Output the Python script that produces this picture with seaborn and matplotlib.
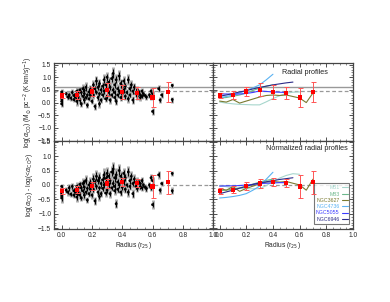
import numpy as np
import pandas as pd
import seaborn as sns
import matplotlib.pyplot as plt
from matplotlib.ticker import MultipleLocator

# ---- individual pixels (x in r25, top: log alpha_CO, bottom: normalized) ----
px_x = ([0.0, 0.0, 0.0, 0.0, 0.0, 0.0]
        + [0.03, 0.04, 0.05, 0.06, 0.07, 0.08, 0.08]
        + [0.09, 0.10, 0.10, 0.10, 0.10, 0.11, 0.11, 0.12, 0.12]
        + [0.13, 0.13, 0.14, 0.14, 0.15, 0.15, 0.15, 0.16, 0.16, 0.17, 0.17, 0.18, 0.18, 0.19, 0.19]
        + [0.20, 0.20, 0.21, 0.21, 0.22, 0.22, 0.23, 0.23, 0.24, 0.24, 0.25, 0.25, 0.25, 0.26, 0.26,
           0.27, 0.27, 0.28, 0.28, 0.29, 0.29, 0.30, 0.30, 0.30]
        + [0.31, 0.31, 0.32, 0.32, 0.33, 0.33, 0.34, 0.34, 0.35, 0.35, 0.35, 0.36, 0.36, 0.37, 0.37,
           0.38, 0.38, 0.39, 0.39, 0.40, 0.40]
        + [0.41, 0.41, 0.42, 0.42, 0.43, 0.44, 0.44, 0.45, 0.45, 0.46, 0.47, 0.47, 0.48, 0.49, 0.50, 0.50]
        + [0.51, 0.52, 0.52, 0.53, 0.53, 0.54, 0.55, 0.56]
        + [0.58, 0.59, 0.59, 0.60, 0.60, 0.64, 0.65, 0.66, 0.73, 0.73])
px_top = ([0.30, 0.15, 0.42, 0.05, 0.25, -0.05]
          + [0.35, 0.22, 0.30, 0.18, 0.40, 0.28, 0.12]
          + [0.25, 0.45, 0.30, 0.15, 0.05, 0.38, 0.22, 0.50, 0.10]
          + [0.40, -0.05, 0.55, 0.25, 0.35, 0.10, 0.48, 0.20, 0.60, 0.30, -0.10, 0.42, 0.15, 0.52, 0.28]
          + [0.45, 0.05, 0.70, 0.30, 0.55, -0.15, 0.40, 0.85, 0.20, 0.60, 0.35, 0.75, -0.05, 0.50, 0.10,
             0.65, 0.30, 0.90, 0.45, 0.15, 0.70, 0.55, 0.25, 1.00]
          + [0.40, 0.80, 0.10, 0.60, 0.95, 0.30, 0.50, 1.15, 0.20, 0.70, 0.40, 0.90, 0.05, 0.55, 0.30,
             1.05, 0.45, 0.20, 0.75, 0.60, 0.35]
          + [0.50, 0.85, 0.25, 0.65, 0.40, 0.90, 0.15, 0.55, 0.30, 0.70, 0.45, 0.10, 0.60, 0.35, 0.50, 0.25]
          + [0.40, 0.30, 0.20, 0.45, 0.25, 0.35, 0.28, 0.22]
          + [0.30, 0.45, 0.20, -0.35, 0.35, 0.55, 0.10, 0.30, 0.68, 0.12])
px_bot = ([-0.15, -0.30, -0.05, -0.45, -0.22, -0.38]
          + [-0.18, -0.25, -0.10, -0.32, -0.05, -0.20, -0.35]
          + [-0.22, -0.05, -0.15, -0.30, -0.42, -0.10, -0.25, 0.02, -0.35]
          + [-0.10, -0.45, 0.05, -0.20, -0.08, -0.35, 0.10, -0.25, 0.15, -0.12, -0.52, 0.00, -0.30, 0.08, -0.15]
          + [0.00, -0.35, 0.20, -0.15, 0.10, -0.55, -0.05, 0.30, -0.25, 0.15, -0.10, 0.25, -0.40, 0.05, -0.30,
             0.18, -0.12, 0.35, 0.00, -0.28, 0.22, 0.10, -0.18, 0.40]
          + [0.00, 0.30, -0.30, 0.15, 0.45, -0.10, 0.05, 0.55, -0.20, 0.25, -0.05, 0.35, -0.65, 0.10, -0.15,
             0.50, 0.00, -0.25, 0.30, 0.15, -0.08]
          + [0.10, 0.40, -0.15, 0.25, 0.00, 0.45, -0.25, 0.15, -0.05, 0.30, 0.05, -0.30, 0.20, -0.05, 0.12, -0.12]
          + [0.10, 0.05, -0.05, 0.15, -0.10, 0.00, -0.08, -0.12]
          + [0.00, 0.25, -0.10, -0.68, 0.15, 0.35, -0.18, 0.05, 0.40, -0.20])
px_err = ([0.12, 0.15, 0.10, 0.18, 0.12, 0.14]
          + [0.10, 0.12, 0.15, 0.10, 0.12, 0.14, 0.10]
          + [0.12, 0.15, 0.10, 0.12, 0.18, 0.10, 0.14, 0.12, 0.15]
          + [0.15, 0.12, 0.18, 0.10, 0.14, 0.16, 0.12, 0.10, 0.20, 0.14, 0.12, 0.16, 0.10, 0.18, 0.12]
          + [0.16, 0.12, 0.20, 0.14, 0.18, 0.15, 0.12, 0.22, 0.14, 0.18, 0.12, 0.20, 0.15, 0.16, 0.12,
             0.18, 0.14, 0.22, 0.16, 0.12, 0.20, 0.15, 0.14, 0.22]
          + [0.18, 0.20, 0.14, 0.16, 0.22, 0.12, 0.18, 0.25, 0.14, 0.20, 0.16, 0.22, 0.15, 0.18, 0.12,
             0.24, 0.16, 0.14, 0.20, 0.18, 0.15]
          + [0.16, 0.20, 0.14, 0.18, 0.12, 0.22, 0.15, 0.16, 0.12, 0.18, 0.14, 0.16, 0.18, 0.12, 0.15, 0.14]
          + [0.12, 0.10, 0.12, 0.14, 0.10, 0.12, 0.10, 0.12]
          + [0.10, 0.12, 0.10, 0.15, 0.12, 0.14, 0.12, 0.10, 0.10, 0.12])

# ---- binned means (red) ----
bin_x = [0.0, 0.1, 0.2, 0.3, 0.4, 0.5, 0.6, 0.7]
mean_top = [0.28, 0.31, 0.44, 0.51, 0.41, 0.38, 0.20, 0.41]
err_top = [0.10, 0.15, 0.18, 0.25, 0.27, 0.22, 0.37, 0.40]
mean_bot = [-0.21, -0.16, -0.03, 0.05, 0.10, 0.07, -0.05, 0.10]
err_bot = [0.11, 0.12, 0.14, 0.14, 0.14, 0.15, 0.40, 0.40]

# ---- galaxy radial profiles ----
gal_names = ['M51', 'M83', 'NGC3627', 'NGC4736', 'NGC5055', 'NGC6946']
gal_colors = ['#a6d6cc', '#6cb88c', '#7a7a30', '#5ab2f2', '#3c3cff', '#2c2c88']
gal_x = {
    'M51': [0.0, 0.05, 0.1, 0.15, 0.2, 0.25, 0.3, 0.35, 0.4, 0.45, 0.5, 0.55, 0.6],
    'M83': [0.0, 0.05, 0.1, 0.15, 0.2, 0.25, 0.3, 0.35, 0.4],
    'NGC3627': [0.0, 0.05, 0.1, 0.15, 0.2, 0.25, 0.3, 0.35, 0.4, 0.45, 0.5, 0.55, 0.6, 0.65, 0.7],
    'NGC4736': [0.0, 0.05, 0.1, 0.15, 0.2, 0.25, 0.3, 0.35, 0.4],
    'NGC5055': [0.0, 0.05, 0.1, 0.15, 0.2, 0.25, 0.3, 0.35, 0.4, 0.45, 0.5],
    'NGC6946': [0.0, 0.05, 0.1, 0.15, 0.2, 0.25, 0.3, 0.35, 0.4, 0.45, 0.5, 0.55],
}
gal_top = {
    'M51': [0.02, -0.02, -0.05, -0.07, -0.08, -0.09, -0.09, 0.03, 0.16, 0.27, 0.37, 0.41, 0.42],
    'M83': [0.18, 0.20, 0.25, 0.30, 0.38, 0.48, 0.57, 0.65, 0.70],
    'NGC3627': [0.06, 0.02, 0.12, -0.02, 0.06, 0.14, 0.22, 0.28, 0.30, 0.28, 0.30, 0.24, 0.18, 0.00, 0.38],
    'NGC4736': [0.19, 0.24, 0.30, 0.38, 0.48, 0.58, 0.70, 0.90, 1.12],
    'NGC5055': [0.34, 0.34, 0.33, 0.34, 0.36, 0.40, 0.46, 0.44, 0.42, 0.41, 0.40],
    'NGC6946': [0.25, 0.30, 0.36, 0.42, 0.47, 0.54, 0.60, 0.65, 0.70, 0.74, 0.78, 0.81],
}
gal_bot = {
    'M51': [-0.02, -0.06, -0.10, -0.12, -0.13, -0.13, -0.13, -0.02, 0.12, 0.24, 0.33, 0.39, 0.37],
    'M83': [-0.20, -0.18, -0.14, -0.10, -0.04, 0.03, 0.10, 0.16, 0.20],
    'NGC3627': [-0.12, -0.18, -0.06, -0.22, -0.12, -0.04, 0.04, 0.10, 0.12, 0.10, 0.12, 0.06, 0.00, -0.18, 0.20],
    'NGC4736': [-0.45, -0.43, -0.40, -0.36, -0.30, -0.18, -0.04, 0.20, 0.44],
    'NGC5055': [-0.04, -0.03, -0.03, -0.02, 0.00, 0.02, 0.05, 0.06, 0.07, 0.08, 0.08],
    'NGC6946': [-0.30, -0.24, -0.18, -0.11, -0.05, 0.02, 0.07, 0.11, 0.15, 0.19, 0.22, 0.25],
}

solid_level = 0.63
dash_level = 0.47

sns.set_style('ticks')
plt.rcParams['font.family'] = ['Liberation Sans', 'DejaVu Sans']
plt.rcParams['mathtext.fontset'] = 'dejavusans'

fig = plt.figure(figsize=(3.9, 3.02), dpi=100)
ax_tl = fig.add_axes([0.1385, 0.533, 0.408, 0.258])
ax_tr = fig.add_axes([0.546, 0.533, 0.359, 0.258])
ax_bl = fig.add_axes([0.1385, 0.242, 0.408, 0.291])
ax_br = fig.add_axes([0.546, 0.242, 0.359, 0.291])

fs = 4.8


def style(ax, ylim, xlabels, ylabels):
    ax.set_xlim(-0.05, 1.0)
    ax.set_ylim(*ylim)
    ax.xaxis.set_major_locator(MultipleLocator(0.2))
    ax.xaxis.set_minor_locator(MultipleLocator(0.05))
    ax.yaxis.set_major_locator(MultipleLocator(0.5))
    ax.yaxis.set_minor_locator(MultipleLocator(0.1))
    ax.tick_params(which='both', direction='in', top=True, right=True,
                   labelsize=fs, color='#333333', pad=2)
    ax.tick_params(which='major', length=3, width=0.6)
    ax.tick_params(which='minor', length=1.5, width=0.4)
    if not xlabels:
        ax.set_xticklabels([])
    if not ylabels:
        ax.set_yticklabels([])
    for s in ax.spines.values():
        s.set_color('#444444')
        s.set_linewidth(0.9)


def draw_pixels(ax, y):
    ax.errorbar(px_x, y, yerr=px_err, fmt='none', ecolor='#a8a8a8', elinewidth=2.0, capsize=0, zorder=2)
    ax.errorbar(px_x, y, yerr=np.array(px_err) * 0.65, fmt='none', ecolor='black', elinewidth=0.7,
                capsize=0, zorder=3)
    sns.scatterplot(x=px_x, y=y, ax=ax, color='black', s=4, edgecolor='none', zorder=4, legend=False)


def draw_means(ax, y, e):
    ax.errorbar(bin_x, y, yerr=e, fmt='none', ecolor='#ff5555', elinewidth=0.7, capsize=1.8,
                capthick=0.7, zorder=6)
    sns.scatterplot(x=bin_x, y=y, ax=ax, color='red', marker='s', s=9, edgecolor='none', zorder=7,
                    legend=False)


def draw_profiles(ax, prof):
    for name, col in zip(gal_names, gal_colors):
        df = pd.DataFrame({'r': gal_x[name], 'v': prof[name]})
        sns.lineplot(data=df, x='r', y='v', ax=ax, color=col, lw=0.8, label=name, zorder=5,
                     estimator=None, sort=False)


# top left
draw_pixels(ax_tl, px_top)
draw_means(ax_tl, mean_top, err_top)
ax_tl.axhline(solid_level, color='#999999', lw=1.0, zorder=1)
ax_tl.axhline(dash_level, color='#999999', lw=0.9, ls=(0, (3, 2)), zorder=1)
style(ax_tl, (-1.52, 1.56), False, True)
ax_tl.set_xlabel('')
ax_tl.set_ylabel(r'log($\alpha_{\rm CO}$) (M$_{\odot}$ pc$^{-2}$ (K km/s)$^{-1}$)', fontsize=fs, labelpad=2)

# top right
draw_profiles(ax_tr, gal_top)
draw_means(ax_tr, mean_top, err_top)
ax_tr.axhline(solid_level, color='#999999', lw=1.0, zorder=1)
ax_tr.axhline(dash_level, color='#999999', lw=0.9, ls=(0, (3, 2)), zorder=1)
style(ax_tr, (-1.52, 1.56), False, False)
ax_tr.set_xlabel('')
ax_tr.set_ylabel('')
if ax_tr.get_legend() is not None:
    ax_tr.get_legend().remove()
ax_tr.text(0.47, 1.2, 'Radial profiles', fontsize=fs + 0.4, color='#222222', va='center')

# bottom left
draw_pixels(ax_bl, px_bot)
draw_means(ax_bl, mean_bot, err_bot)
ax_bl.axhline(0.0, color='#999999', lw=0.9, ls=(0, (3, 2)), zorder=1)
style(ax_bl, (-1.52, 1.52), True, True)
ax_bl.set_xlabel(r'Radius (r$_{25}$)', fontsize=fs, labelpad=1)
ax_bl.set_ylabel(r'log($\alpha_{\rm CO}$) - log(<$\alpha_{\rm CO}$>)', fontsize=fs, labelpad=2)

# bottom right
draw_profiles(ax_br, gal_bot)
draw_means(ax_br, mean_bot, err_bot)
ax_br.axhline(0.0, color='#999999', lw=0.9, ls=(0, (3, 2)), zorder=1)
style(ax_br, (-1.52, 1.52), True, False)
ax_br.set_xlabel(r'Radius (r$_{25}$)', fontsize=fs, labelpad=1)
ax_br.set_ylabel('')
ax_br.text(0.35, 1.25, 'Normalized radial profiles', fontsize=fs + 0.4, color='#222222', va='center')
handles, labels = ax_br.get_legend_handles_labels()
leg = ax_br.legend(handles, labels, loc='lower right', bbox_to_anchor=(0.975, 0.06), borderaxespad=0,
                   fontsize=3.8, markerfirst=False, handlelength=1.0, handletextpad=0.5,
                   labelspacing=0.25, borderpad=0.35, frameon=True, fancybox=False)
leg.get_frame().set_edgecolor('#555555')
leg.get_frame().set_linewidth(0.8)
for t, c in zip(leg.get_texts(), gal_colors):
    t.set_color(c)

fig.savefig('out.png', dpi=100)
